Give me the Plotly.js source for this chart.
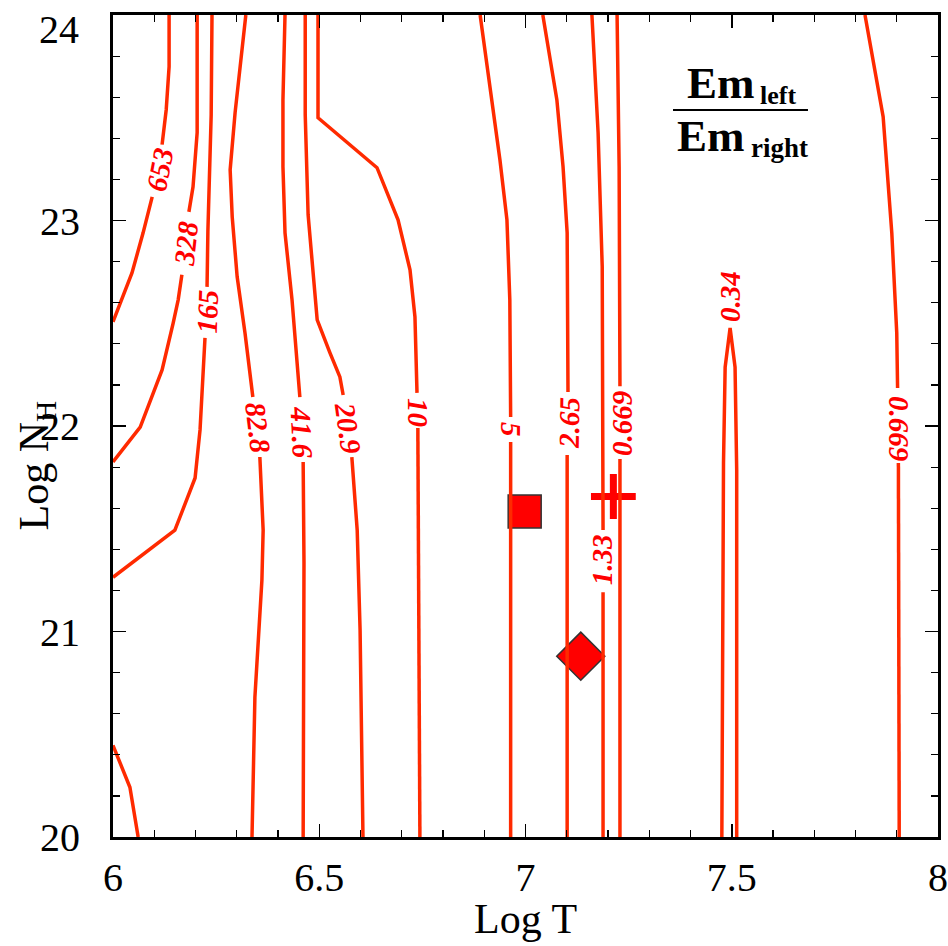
<!DOCTYPE html>
<html><head><meta charset="utf-8">
<script src="https://cdn.plot.ly/plotly-3.0.1.min.js"></script>
<style>body{margin:0;background:#fff}</style>
</head><body><div id="chart" style="width:948px;height:946px"></div>
<script>
// Contour lines of Em_left / Em_right (Log T, Log N_H). null = label gap.
const c653_T  = [6.136, 6.136, 6.129, 6.119, null, 6.095, 6.073, 6.046, 6.0];
const c653_N  = [24, 23.749, 23.539, 23.369, null, 23.115, 22.940, 22.745, 22.507];
const c328_T  = [6.204, 6.204, 6.194, 6.184, null, 6.167, 6.158, 6.146, 6.119, 6.066, 6.0];
const c328_N  = [24, 23.427, 23.164, 23.042, null, 22.736, 22.614, 22.502, 22.273, 21.995, 21.825];
const c165_T  = [6.240, 6.238, 6.230, 6.228, null, 6.223, 6.211, 6.199, 6.150, 6.0];
const c165_N  = [24, 23.515, 22.945, 22.677, null, 22.429, 21.981, 21.747, 21.493, 21.264];
const cCorner_T = [6.0, 6.041, 6.061];
const cCorner_N = [20.446, 20.242, 20.0];
const c82_T   = [6.322, 6.308, 6.296, 6.284, 6.289, 6.301, 6.320, 6.339, null, 6.356, 6.364, 6.361, 6.344, 6.337];
const c82_N   = [24, 23.749, 23.525, 23.247, 23.018, 22.726, 22.453, 22.141, null, 21.849, 21.493, 21.250, 20.680, 20];
const c41_T   = [6.417, 6.412, 6.412, 6.417, 6.434, 6.453, null, 6.461, 6.463, 6.461];
const c41_N   = [24, 23.588, 23.262, 22.940, 22.614, 22.141, null, 21.825, 21.333, 20];
const c20_T   = [6.466, 6.466, 6.473, 6.495, 6.526, 6.550, 6.558, null, 6.579, 6.592, 6.599, 6.606];
const c20_N   = [24, 23.515, 23.028, 22.516, 22.356, 22.239, 22.151, null, 21.849, 21.493, 21.006, 20];
const c10_T   = [6.497, 6.497, 6.640, 6.691, 6.720, 6.732, 6.737, null, 6.739, 6.744];
const c10_N   = [24, 23.500, 23.257, 23.003, 22.760, 22.531, 22.161, null, 21.990, 20];
const c5_T    = [6.890, 6.938, 6.955, 6.962, 6.964, null, 6.964, 6.964];
const c5_N    = [24, 23.296, 23.003, 22.614, 22.044, null, 21.922, 20];
const c265_T  = [7.042, 7.076, 7.091, 7.101, 7.103, null, 7.101, 7.101];
const c265_N  = [24, 23.588, 23.262, 22.940, 22.166, null, 21.859, 20];
const c133_T  = [7.161, 7.176, 7.186, 7.188, null, 7.188, 7.188];
const c133_N  = [24, 23.427, 22.775, 21.494, null, 21.191, 20];
const c0669a_T = [7.222, 7.227, 7.229, null, 7.229, 7.229];
const c0669a_N = [24, 23.262, 22.193, null, 21.839, 20];
const c034_T  = [7.476, 7.480, 7.484, 7.496, 7.508, 7.512, 7.512];
const c034_N  = [20, 21.820, 22.287, 22.477, 22.287, 21.786, 20];
const c0669b_T = [7.823, 7.867, 7.888, 7.900, 7.902, null, 7.904, 7.906];
const c0669b_N = [24, 23.505, 22.940, 22.453, 22.185, null, 21.820, 20];

// contour labels
const labelText = ['653', '328', '165', '82.8', '41.6', '20.9', '10', '5', '2.65', '0.669', '1.33', '0.34', '0.669'];
const labelT    = [6.113, 6.177, 6.229, 6.3515, 6.4575, 6.5697, 6.7394, 6.9648, 7.1055, 7.2339, 7.1855, 7.4976, 7.9055];
const labelN    = [23.247, 22.886, 22.560, 21.990, 21.971, 21.990, 22.068, 21.981, 22.015, 22.015, 21.347, 22.631, 21.990];
const labelAngle = [-79, -84, -88, 83, 87, 82, 90, 90, -89, -90, -90, -90, 90];

// observed points
const squareT = [6.998], squareN = [21.584];
const diamondT = [7.134], diamondN = [20.880];
const crossT = [7.213], crossN = [21.657];

// axis ticks
const xTicks = [6, 6.5, 7, 7.5, 8];
const xTickText = ['6', '6.5', '7', '7.5', '8'];
const yTicks = [20, 21, 22, 23, 24];
const yTickText = ['20', '21', '22', '23', '24'];

const LINE = '#ff2a00';
const lines = [
  [c653_T, c653_N], [c328_T, c328_N], [c165_T, c165_N], [cCorner_T, cCorner_N],
  [c82_T, c82_N], [c41_T, c41_N], [c20_T, c20_N], [c10_T, c10_N], [c5_T, c5_N],
  [c265_T, c265_N], [c133_T, c133_N], [c0669a_T, c0669a_N], [c034_T, c034_N], [c0669b_T, c0669b_N]
];

const traces = [];
traces.push({x: squareT, y: squareN, type: 'scatter', mode: 'markers', showlegend: false, hoverinfo: 'skip',
  marker: {symbol: 'square', size: 33, color: '#ff0000', line: {color: '#333333', width: 1.5}}});
traces.push({x: diamondT, y: diamondN, type: 'scatter', mode: 'markers', showlegend: false, hoverinfo: 'skip',
  marker: {symbol: 'diamond', size: 37, color: '#ff0000', line: {color: '#333333', width: 1.5}}});
traces.push({x: crossT, y: crossN, type: 'scatter', mode: 'markers', showlegend: false, hoverinfo: 'skip',
  marker: {symbol: 'cross-thin-open', size: 32, color: '#ff0000', line: {color: '#ff0000', width: 7}}});
lines.forEach(function (l) {
  traces.push({x: l[0], y: l[1], type: 'scatter', mode: 'lines', connectgaps: false, showlegend: false,
    hoverinfo: 'skip', line: {color: LINE, width: 3.5, shape: 'linear'}});
});

const FONT = 'Liberation Serif, Times New Roman, serif';
const annotations = labelText.map(function (t, i) {
  return {x: labelT[i], y: labelN[i], xref: 'x', yref: 'y', text: '<b><i>' + t + '</i></b>', showarrow: false,
    textangle: labelAngle[i], xanchor: 'center', yanchor: 'middle',
    font: {family: FONT, size: 29, color: '#ff0000'}};
});
// fraction Em_left / Em_right
annotations.push({xref: 'paper', yref: 'paper', x: 0.6933, y: 0.9173, xanchor: 'left', yanchor: 'middle', showarrow: false,
  text: '<b>Em</b>', font: {family: FONT, size: 45, color: '#000'}});
annotations.push({xref: 'paper', yref: 'paper', x: 0.7818, y: 0.9015, xanchor: 'left', yanchor: 'middle', showarrow: false,
  text: '<b>left</b>', font: {family: FONT, size: 26, color: '#000'}});
annotations.push({xref: 'paper', yref: 'paper', x: 0.6812, y: 0.8528, xanchor: 'left', yanchor: 'middle', showarrow: false,
  text: '<b>Em</b>', font: {family: FONT, size: 45, color: '#000'}});
annotations.push({xref: 'paper', yref: 'paper', x: 0.7709, y: 0.8388, xanchor: 'left', yanchor: 'middle', showarrow: false,
  text: '<b>right</b>', font: {family: FONT, size: 27, color: '#000'}});
// axis titles
annotations.push({xref: 'paper', yref: 'paper', x: 0.4994, y: -0.0997, xanchor: 'center', yanchor: 'middle', showarrow: false,
  text: 'Log T', font: {family: FONT, size: 42, color: '#000'}});
annotations.push({xref: 'paper', yref: 'paper', x: -0.0921, y: 0.452, xanchor: 'center', yanchor: 'middle', showarrow: false,
  textangle: -90, text: 'Log N<sub>H</sub>', font: {family: FONT, size: 42, color: '#000'}});
// top y tick label kept inside the frame, as in the picture
annotations.push({xref: 'paper', yref: 'paper', x: -0.0388, y: 0.9818, xanchor: 'right', yanchor: 'middle', showarrow: false,
  text: yTickText[4], font: {family: FONT, size: 40, color: '#000'}});

const axisCommon = {
  showgrid: false, zeroline: false, showline: true, linecolor: '#000', linewidth: 3, mirror: 'allticks',
  ticks: 'inside', ticklen: 13, tickwidth: 1.5, tickcolor: '#000', ticklabeloverflow: 'allow',
  tickfont: {family: FONT, size: 40, color: '#000'}
};

const layout = {
  width: 948, height: 946,
  margin: {l: 113, r: 10, t: 15, b: 109},
  paper_bgcolor: '#fff', plot_bgcolor: '#fff',
  xaxis: Object.assign({}, axisCommon, {
    range: [6, 8], tickvals: xTicks, ticktext: xTickText, ticklabelstandoff: 3,
    minor: {dtick: 0.1, tick0: 6, ticks: 'inside', ticklen: 7, tickwidth: 1.2, tickcolor: '#000', showgrid: false}
  }),
  yaxis: Object.assign({}, axisCommon, {
    range: [20, 24], tickvals: yTicks.slice(0, 4), ticktext: yTickText.slice(0, 4), ticklabelstandoff: 22,
    minor: {dtick: 0.2, tick0: 20, ticks: 'inside', ticklen: 7, tickwidth: 1.2, tickcolor: '#000', showgrid: false}
  }),
  annotations: annotations,
  shapes: [{type: 'line', xref: 'paper', yref: 'paper', x0: 0.6788, x1: 0.8424, y0: 0.8844, y1: 0.8844,
    line: {color: '#000', width: 2}}]
};

Plotly.newPlot('chart', traces, layout, {displayModeBar: false, staticPlot: true});
</script>
</body></html>
